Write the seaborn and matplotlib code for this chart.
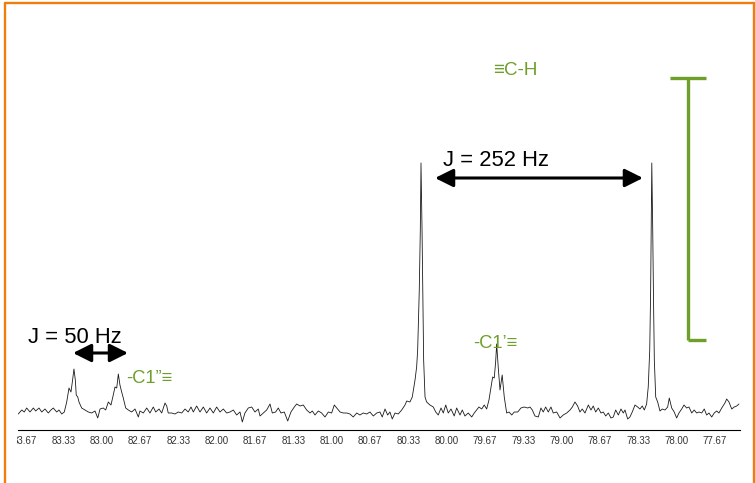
import matplotlib
matplotlib.use("Agg")
import matplotlib.pyplot as plt
from matplotlib.lines import Line2D
from matplotlib.ticker import FixedLocator, MultipleLocator
from matplotlib.transforms import Bbox, TransformedBbox
import pandas as pd
import seaborn as sns

# 13C spectrum trace: chemical shift (ppm) and intensity (arbitrary units)
shift_ppm = [
    83.725, 83.695, 83.673, 83.652, 83.623, 83.594, 83.574, 83.545, 83.521, 83.493,
    83.464, 83.441, 83.421, 83.391, 83.371, 83.347, 83.325, 83.304, 83.284, 83.267,
    83.255, 83.241, 83.229, 83.221, 83.208, 83.197, 83.174, 83.145, 83.116, 83.087,
    83.058, 83.034, 83.014, 82.986, 82.965, 82.942, 82.919, 82.899, 82.884, 82.869,
    82.855, 82.841, 82.826, 82.812, 82.791, 82.768, 82.739, 82.710, 82.681, 82.667,
    82.638, 82.608, 82.580, 82.551, 82.530, 82.501, 82.478, 82.449, 82.434, 82.421,
    82.391, 82.362, 82.334, 82.304, 82.275, 82.247, 82.223, 82.203, 82.174, 82.145,
    82.116, 82.087, 82.058, 82.029, 82.000, 81.971, 81.942, 81.913, 81.884, 81.855,
    81.826, 81.797, 81.777, 81.754, 81.725, 81.695, 81.667, 81.638, 81.623, 81.594,
    81.565, 81.536, 81.516, 81.487, 81.464, 81.441, 81.412, 81.382, 81.354, 81.325,
    81.304, 81.275, 81.247, 81.217, 81.188, 81.168, 81.145, 81.116, 81.087, 81.058,
    81.029, 81.000, 80.977, 80.956, 80.927, 80.899, 80.869, 80.841, 80.812, 80.782,
    80.754, 80.725, 80.695, 80.667, 80.638, 80.608, 80.580, 80.560, 80.536, 80.513,
    80.493, 80.473, 80.449, 80.421, 80.391, 80.362, 80.347, 80.319, 80.299, 80.275,
    80.261, 80.252, 80.238, 80.229, 80.223, 80.214, 80.206, 80.200, 80.188, 80.174,
    80.145, 80.116, 80.095, 80.073, 80.049, 80.029, 80.008, 79.986, 79.962, 79.934,
    79.913, 79.884, 79.864, 79.841, 79.812, 79.782, 79.760, 79.739, 79.719, 79.695,
    79.673, 79.652, 79.632, 79.614, 79.600, 79.586, 79.574, 79.565, 79.551, 79.536,
    79.517, 79.499, 79.478, 79.458, 79.434, 79.412, 79.382, 79.354, 79.325, 79.295,
    79.275, 79.255, 79.232, 79.203, 79.180, 79.160, 79.139, 79.116, 79.093, 79.073,
    79.043, 79.014, 78.986, 78.956, 78.927, 78.907, 78.884, 78.861, 78.841, 78.821,
    78.797, 78.768, 78.745, 78.725, 78.704, 78.681, 78.658, 78.638, 78.617, 78.594,
    78.571, 78.551, 78.530, 78.507, 78.484, 78.464, 78.449, 78.426, 78.406, 78.386,
    78.362, 78.339, 78.319, 78.299, 78.281, 78.261, 78.247, 78.234, 78.226, 78.221,
    78.216, 78.208, 78.201, 78.194, 78.182, 78.165, 78.145, 78.125, 78.101, 78.078,
    78.064, 78.043, 78.021, 78.000, 77.980, 77.956, 77.936, 77.913, 77.893, 77.869,
    77.847, 77.826, 77.806, 77.782, 77.760, 77.739, 77.719, 77.695, 77.673, 77.652,
    77.632, 77.608, 77.580, 77.565, 77.545, 77.521, 77.499, 77.478, 77.458,
]
intensity = [
    -6, -2, -4, 0, -4, 0, -3, 0, -4, -1,
    -5, -2, 0, -4, -2, -6, -4, 6, 20, 16,
    26, 39, 28, 13, 11, 6, 0, -2, -4, -5,
    -3, -10, -1, 0, -2, 6, 3, 13, 21, 20,
    34, 23, 16, 10, 0, -2, -4, -1, -9, -3,
    -5, 0, -5, 1, -4, -1, -5, 5, 2, -5,
    -5, -6, -4, -5, -1, -4, 1, -4, 2, -4,
    1, -5, 0, -5, 1, -4, -1, -5, -4, -2,
    -7, -4, -14, -5, 0, 1, -4, -1, -8, -5,
    -2, 4, -5, -4, 0, -5, -4, -13, -4, 1,
    4, 2, 3, -2, -5, -3, -7, -3, -5, -9,
    -4, -5, 3, 0, -4, -5, -5, -6, -9, -5,
    -7, -5, -6, -4, -8, -5, -4, -9, -1, -7,
    -4, -11, -5, -6, -2, 3, 7, 6, 11, 28,
    41, 58, 118, 178, 245, 178, 108, 48, 11, 6,
    3, 1, -4, -7, 0, -5, 3, -5, -1, -8,
    0, -7, -2, -8, -5, -9, -5, -2, 1, -1,
    3, -1, 8, 21, 31, 30, 46, 64, 40, 18,
    33, 11, -5, -4, -7, -4, -4, 0, 1, 0,
    1, -2, -8, -9, 0, -4, 1, -4, 1, -5,
    -4, -10, -7, -5, -2, 1, 6, 2, -4, -1,
    -5, 3, -2, 2, -4, 0, -5, -4, -8, -5,
    -10, -9, -2, -7, -1, -5, -2, -11, -9, -4,
    3, 1, -1, 2, -2, 4, 21, 58, 118, 178,
    245, 178, 108, 48, 11, 6, -3, -1, -2, 1,
    10, 0, -4, -10, -5, -1, 3, 0, 1, -5,
    -2, -5, -4, -5, -1, -7, -5, -9, -5, -3,
    -5, 0, 5, 9, 6, -1, 1, 2, 4,
]

# Axis tick labels (ppm, steps of 1/3)
tick_labels = ["83.67", "83.33", "83.00", "82.67", "82.33", "82.00", "81.67",
               "81.33", "81.00", "80.67", "80.33", "80.00", "79.67", "79.33",
               "79.00", "78.67", "78.33", "78.00", "77.67"]

# Annotations: coupling labels and signal assignments
coupling_small = ("J = 50 Hz", 83.249, 82.771)
coupling_large = ("J = 252 Hz", 80.101, 78.293)
label_ch = "\u2261C-H"
label_c1p = "-C1\u2019\u2261"
label_c1pp = "-C1\u201d\u2261"

GREEN = "#6e9f2b"
ORANGE = "#ef7f0a"
FONT = ["Liberation Sans", "DejaVu Sans"]

sns.set_style("white")
plt.rcParams["font.family"] = FONT

W, H = 755, 483
fig = plt.figure(figsize=(W / 100, H / 100), dpi=100)
ax = fig.add_axes([18 / W, 53 / H, 722 / W, 410 / H])

df = pd.DataFrame({"ppm": shift_ppm, "I": intensity})
sns.lineplot(data=df, x="ppm", y="I", ax=ax, color="#1a1a1a", linewidth=0.6,
             estimator=None, sort=False)

ax.set_xlim(83.7275, 77.449)
ax.set_ylim(-22, 388)
ax.set_xlabel("")
ax.set_ylabel("")
ax.set_yticks([])
for side in ("left", "right", "top"):
    ax.spines[side].set_visible(False)
ax.spines["bottom"].set_color("black")
ax.spines["bottom"].set_linewidth(0.8)

major_pos = [round(float(s) * 3) / 3 for s in tick_labels]
ax.xaxis.set_major_locator(FixedLocator(major_pos))
ax.xaxis.set_minor_locator(MultipleLocator(1 / 15))
ax.set_xticklabels(tick_labels)
ax.tick_params(axis="x", which="major", direction="out", length=3.6, width=0.7,
               color="black", labelsize=7, labelcolor="#333333", pad=1)
ax.tick_params(axis="x", which="minor", direction="out", length=2.2, width=0.6,
               color="black")

# tick labels are cut at the left edge of the plot region
clip = TransformedBbox(Bbox([[17 / W, 0], [1, 1]]), fig.transFigure)
for lab in ax.get_xticklabels():
    lab.set_clip_on(True)
    lab.set_clip_box(clip)

# coupling constants
arrow_kw = dict(arrowstyle="<|-|>,head_length=1.1,head_width=0.55",
                mutation_scale=10, lw=2.2, color="black",
                shrinkA=0, shrinkB=0)
ax.annotate("", xy=(coupling_small[2], 55), xytext=(coupling_small[1], 55),
            arrowprops=arrow_kw)
ax.text(83.640, 65, coupling_small[0], fontsize=15.8, color="black",
        ha="left", va="baseline")
ax.annotate("", xy=(coupling_large[2], 230), xytext=(coupling_large[1], 230),
            arrowprops=arrow_kw)
ax.text(80.032, 242, coupling_large[0], fontsize=15.8, color="black",
        ha="left", va="baseline")

# assignments
ax.text(79.401, 333, label_ch, fontsize=13.5, color=GREEN,
        ha="center", va="baseline")
ax.text(79.580, 60, label_c1p, fontsize=13.2, color=GREEN,
        ha="center", va="baseline")
ax.text(82.788, 25, label_c1pp, fontsize=13.2, color=GREEN,
        ha="left", va="baseline")

# integration bracket
bk = dict(color=GREEN, lw=2.4, solid_capstyle="butt", clip_on=False)
ax.plot([77.901, 77.901], [330, 68], **bk)
ax.plot([78.058, 77.745], [330, 330], **bk)
ax.plot([77.901, 77.745], [68, 68], **bk)

# frame around the figure
fr = dict(color=ORANGE, lw=1.7, transform=fig.transFigure)
fig.add_artist(Line2D([5 / W, 5 / W], [0, 1 - 2.8 / H], **fr))
fig.add_artist(Line2D([5 / W, 753.8 / W], [1 - 2.8 / H, 1 - 2.8 / H], **fr))
fig.add_artist(Line2D([753.8 / W, 753.8 / W], [0, 1 - 2.8 / H], **fr))

fig.savefig("out.png", dpi=100, facecolor="white")
